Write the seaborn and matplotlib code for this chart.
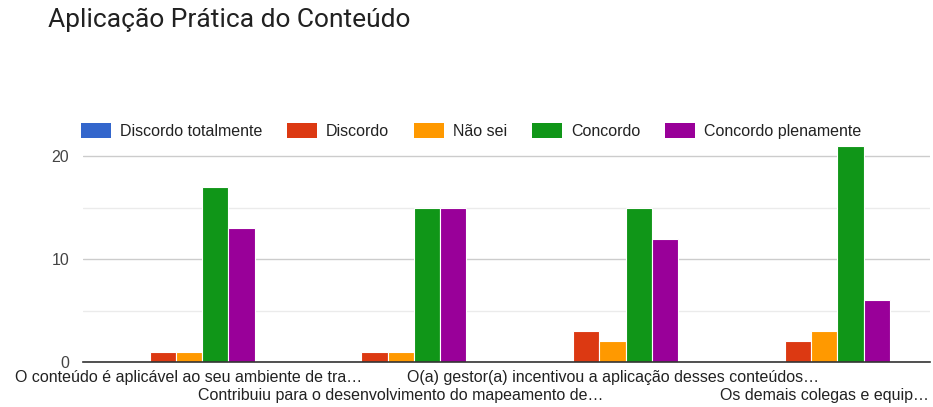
import matplotlib
matplotlib.use("Agg")
import matplotlib.pyplot as plt
import seaborn as sns
import pandas as pd
from matplotlib.patches import Patch

title = "Aplicação Prática do Conteúdo"
categories = [
    "O conteúdo é aplicável ao seu ambiente de tra…",
    "Contribuiu para o desenvolvimento do mapeamento de…",
    "O(a) gestor(a) incentivou a aplicação desses conteúdos…",
    "Os demais colegas e equip…",
]
series = ["Discordo totalmente", "Discordo", "Não sei", "Concordo", "Concordo plenamente"]
discordo_totalmente = [0, 0, 0, 0]
discordo = [1, 1, 3, 2]
nao_sei = [1, 1, 2, 3]
concordo = [17, 15, 15, 21]
concordo_plenamente = [13, 15, 12, 6]
colors = ["#3366cc", "#dc3912", "#ff9900", "#109618", "#990099"]
yticks = [0, 10, 20]

values = [discordo_totalmente, discordo, nao_sei, concordo, concordo_plenamente]
rows = []
for s, vals in zip(series, values):
    for c, v in zip(categories, vals):
        rows.append({"cat": c, "serie": s, "val": v})
df = pd.DataFrame(rows)

sns.set_style("white")
plt.rcParams["font.family"] = ["Liberation Sans", "DejaVu Sans"]

fig = plt.figure(figsize=(9.33, 4.07), dpi=100)
ax = fig.add_axes([0.089, 0.1106, 0.908, 0.536])

sns.barplot(data=df, x="cat", y="val", hue="serie", hue_order=series,
            order=categories, palette=colors, width=0.62, ax=ax,
            edgecolor="white", linewidth=0.8, legend=False, saturation=1)

ax.set_ylim(0, 21.2)
ax.set_xlim(-0.5, len(categories) - 0.5)
ax.set_yticks(yticks)
ax.set_yticks([5, 15], minor=True)
ax.grid(axis="y", which="major", color="#cccccc", linewidth=1)
ax.grid(axis="y", which="minor", color="#ebebeb", linewidth=1)
ax.set_axisbelow(True)
for sp in ["top", "right", "left"]:
    ax.spines[sp].set_visible(False)
ax.spines["bottom"].set_color("#333333")
ax.spines["bottom"].set_linewidth(1.2)
ax.tick_params(axis="both", which="both", length=0, labelsize=11.5, colors="#222222")
ax.tick_params(axis="y", pad=10, labelcolor="#444444")
for lbl in ax.get_yticklabels():
    lbl.set_verticalalignment("center_baseline")

even = [i for i in range(len(categories)) if i % 2 == 0]
odd = [i for i in range(len(categories)) if i % 2 == 1]
ax.set_xticks(even)
ax.set_xticklabels([categories[i] for i in even])
ax.set_xticks(odd, minor=True)
ax.set_xticklabels([categories[i] for i in odd], minor=True)
ax.tick_params(axis="x", which="major", pad=5.5)
ax.tick_params(axis="x", which="minor", pad=19)
ax.grid(axis="x", which="both", visible=False)
ax.set_xlabel("")
ax.set_ylabel("")

fig.text(0.0515, 0.95, title, fontsize=19, color="#212121", va="center",
         family=["Roboto", "DejaVu Sans"])

handles = [Patch(facecolor=c, edgecolor="none") for c in colors]
fig.legend(handles, series, loc="center left", bbox_to_anchor=(0.083, 0.678),
           ncol=5, frameon=False, fontsize=11.5, handlelength=1.9, handleheight=1.0,
           columnspacing=1.55, handletextpad=0.55, labelcolor="#222222",
           borderaxespad=0, borderpad=0.2)

fig.savefig("out.png", dpi=100)
